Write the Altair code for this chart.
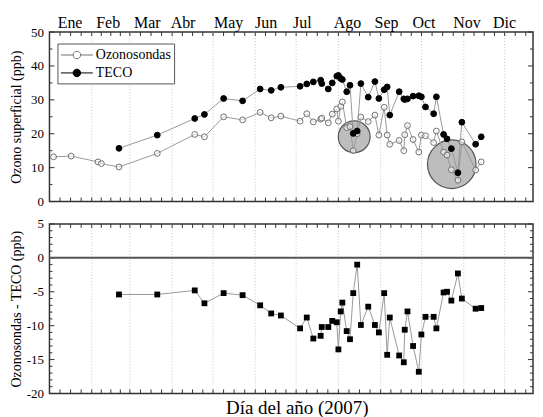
import altair as alt
import pandas as pd

# ---------------- data ----------------
MONTHS = ["Ene", "Feb", "Mar", "Abr", "May", "Jun", "Jul", "Ago", "Sep", "Oct", "Nov", "Dic"]
MONTH_LABEL_DAY = [15.1, 43.1, 71.8, 98.0, 131.5, 159.0, 185.5, 218.7, 247.3, 274.8, 306.4, 333.9]
MONTH_START = [0, 31, 59, 90, 120, 151, 181, 212, 243, 273, 304, 334, 365]
X_DOMAIN = [0, 354.8]

OZ_DAY = [3.0, 15.9, 35.6, 38.1, 51.0, 79.1, 106.6, 113.7, 127.8, 141.7, 154.6, 162.7, 169.8,
          183.9, 188.8, 193.6, 199.0, 199.8, 204.6, 207.5, 210.8, 212.0, 213.7, 214.9, 218.1,
          220.5, 222.9, 225.8, 228.5, 233.9, 238.8, 241.7, 245.6, 247.8, 249.7, 256.6, 260.0,
          260.7, 262.7, 266.8, 271.0, 272.9, 275.9, 281.9, 283.9, 289.2, 291.7, 294.9, 299.7,
          302.6, 312.7, 316.8]
OZ_VAL = [13.2, 13.4, 11.7, 11.2, 10.2, 14.2, 19.8, 19.1, 25.0, 24.1, 26.3, 24.7, 25.2,
          23.7, 25.9, 23.5, 24.3, 24.6, 23.2, 25.8, 27.3, 23.7, 28.1, 29.4, 21.8,
          22.1, 15.0, 20.0, 24.9, 23.6, 25.5, 19.6, 27.8, 19.6, 16.9, 18.0, 15.0,
          19.7, 22.4, 18.3, 14.6, 19.6, 19.4, 17.4, 20.8, 14.6, 13.7, 9.4, 6.3,
          17.6, 9.3, 11.7]

TECO_DAY = [51.0, 79.1, 106.6, 113.7, 127.8, 141.7, 154.6, 162.7, 169.8,
            183.9, 188.8, 193.6, 199.0, 199.8, 204.6, 207.5, 210.8, 212.0, 213.7, 214.9,
            218.1, 220.5, 222.9, 225.8, 228.5, 233.9, 238.8, 241.7, 245.6, 247.8, 249.7,
            256.6, 260.0, 260.7, 262.7, 266.8, 271.0, 272.9, 275.9, 281.9, 283.9,
            289.2, 291.7, 294.9, 299.7, 302.6, 312.7, 316.8]
TECO_VAL = [15.7, 19.6, 24.5, 25.7, 30.4, 29.7, 33.2, 32.8, 33.7,
            34.0, 34.7, 35.3, 35.8, 34.8, 33.2, 35.0, 37.0, 37.2, 36.3, 36.0,
            32.4, 34.3, 20.1, 20.8, 34.8, 30.8, 35.4, 30.4, 33.0, 33.8, 25.5,
            32.4, 30.3, 30.1, 30.3, 31.1, 31.2, 30.9, 27.9, 25.9, 30.9,
            19.8, 18.5, 15.6, 8.5, 23.4, 16.9, 19.1]

DIFF_DAY = list(TECO_DAY)
DIFF_VAL = [-5.4, -5.4, -4.8, -6.7, -5.2, -5.5, -7.0, -8.2, -8.5,
            -10.4, -8.8, -11.9, -11.5, -10.2, -10.2, -9.3, -9.5, -13.5, -7.9, -6.6,
            -10.8, -12.0, -5.2, -1.0, -9.9, -7.2, -9.9, -11.0, -5.2, -14.3, -8.8,
            -14.4, -15.4, -10.6, -7.9, -13.0, -16.8, -11.3, -8.7, -8.7, -10.4,
            -5.1, -5.0, -6.3, -2.3, -6.0, -7.5, -7.4]

HIGHLIGHT_DAY = [223.6, 295.2]
HIGHLIGHT_VAL = [19.1, 11.0]

SERIES = ["Ozonosondas", "TECO"]
TOP_Y_DOMAIN = [0, 50]
TOP_Y_LABELS = [0, 10, 20, 30, 40, 50]
TOP_Y_MINOR = [5, 15, 25, 35, 45]
BOT_Y_DOMAIN = [-20, 5]
BOT_Y_LABELS = [-20, -15, -10, -5, 0, 5]
BOT_Y_MINOR = [v for v in range(-19, 5) if v % 5 != 0]
ZERO = [0]

# ---------------- layout / style ----------------
W, H1, H2 = 485, 170, 170
FONT = "Liberation Serif"
TICK = "#333333"
SYMBOL_PATH = ("M-1,0H0.53M1.47,0H3M1.47,0A0.47,0.47,0,1,1,0.53,0"
               "A0.47,0.47,0,1,1,1.47,0Z")

xticks = []
for s, e in zip(MONTH_START[:-1], MONTH_START[1:]):
    for k in range(4):
        v = s + k * (e - s) / 4
        if X_DOMAIN[0] < v < X_DOMAIN[1]:
            xticks.append(v)

xscale = alt.Scale(domain=X_DOMAIN, nice=False, zero=False)

XAX_TOP = None
XAX_BOT = alt.Axis(labels=False, ticks=False, domain=False, grid=False,
                   title="Día del año (2007)", titleFontSize=19,
                   titleX=248, titleY=20, titleBaseline="alphabetic", titleAlign="center")
YAX_TOP = alt.Axis(values=TOP_Y_LABELS, ticks=False, domain=False, grid=False,
                   labelPadding=6, title="Ozono superficial (ppb)",
                   titleX=-33, titleBaseline="middle")
YAX_BOT = alt.Axis(values=BOT_Y_LABELS, ticks=False, domain=False, grid=False,
                   labelPadding=6, title="Ozonosondas - TECO (ppb)",
                   titleX=-33, titleBaseline="middle",
                   labelExpr="datum.value < 0 ? '-' + abs(datum.value) : '' + datum.value")


def enc_x(ax):
    return alt.X("day:Q", scale=xscale, axis=ax)


def frame_layers(H, yscale, xax, yax, ymajor, yminor, major_len, minor_len):
    X = enc_x(xax)
    Y = alt.Y("val:Q", scale=yscale, axis=yax)
    grid = alt.Chart(pd.DataFrame({"day": MONTH_START[1:12]})).mark_rule(
        color="#c8c8c8", strokeDash=[1, 2], strokeWidth=1).encode(x=X)
    xt = pd.DataFrame({"day": xticks})
    tt = alt.Chart(xt).mark_rule(color=TICK, strokeWidth=1).encode(
        x=X, y=alt.value(0), y2=alt.value(4))
    tb = alt.Chart(xt).mark_rule(color=TICK, strokeWidth=1).encode(
        x=X, y=alt.value(H), y2=alt.value(H - 4))
    layers = [grid, tt, tb]
    for vals, ln in ((ymajor, major_len), (yminor, minor_len)):
        d = pd.DataFrame({"val": vals})
        layers.append(alt.Chart(d).mark_rule(color=TICK, strokeWidth=1).encode(
            y=Y, x=alt.value(0), x2=alt.value(ln)))
        layers.append(alt.Chart(d).mark_rule(color=TICK, strokeWidth=1).encode(
            y=Y, x=alt.value(W), x2=alt.value(W - ln)))
    return layers


# ---------------- top panel ----------------
top_yscale = alt.Scale(domain=TOP_Y_DOMAIN, nice=False, zero=False)
XT = enc_x(XAX_TOP)
YT = alt.Y("val:Q", scale=top_yscale, axis=YAX_TOP)
top_frame = frame_layers(H1, top_yscale, XAX_TOP, YAX_TOP, TOP_Y_LABELS, TOP_Y_MINOR, 5, 3)

pts = pd.DataFrame({
    "day": OZ_DAY + TECO_DAY,
    "val": OZ_VAL + TECO_VAL,
    "series": [SERIES[0]] * len(OZ_DAY) + [SERIES[1]] * len(TECO_DAY),
})
hl = pd.DataFrame({"day": HIGHLIGHT_DAY, "val": HIGHLIGHT_VAL})
months = pd.DataFrame({"day": MONTH_LABEL_DAY, "name": MONTHS})

hl1 = alt.Chart(hl.iloc[[0]]).mark_point(
    shape="circle", filled=True, fill="#bdbdbd", stroke="#555555", strokeWidth=1.2,
    opacity=1, size=1018).encode(x=XT, y=YT)
hl2 = alt.Chart(hl.iloc[[1]]).mark_point(
    shape="circle", filled=True, fill="#bdbdbd", stroke="#555555", strokeWidth=1.2,
    opacity=1, size=2376).encode(x=XT, y=YT)

lines_top = alt.Chart(pts).mark_line(color="#9a9a9a", strokeWidth=1).encode(
    x=XT, y=YT, detail="series:N")

legend = alt.Legend(
    title=None, orient="none", legendX=8, legendY=11.5,
    symbolType=SYMBOL_PATH, symbolSize=256, symbolStrokeWidth=1,
    labelFont=FONT, labelFontSize=14, labelColor="black", labelOffset=18.5,
    padding=3, rowPadding=2, strokeColor="#555555", fillColor="white",
)
points_top = alt.Chart(pts).mark_point(
    shape="circle", filled=True, size=34, strokeWidth=1, opacity=1).encode(
    x=XT, y=YT,
    fill=alt.Fill("series:N", scale=alt.Scale(domain=SERIES,
                                               range=["rgba(255,255,255,0.55)", "black"]),
                  legend=legend),
    stroke=alt.Stroke("series:N", scale=alt.Scale(domain=SERIES, range=["#707070", "black"]),
                      legend=legend),
)

month_text = alt.Chart(months).mark_text(
    font=FONT, fontSize=16, baseline="alphabetic", align="center", color="black").encode(
    x=XT, y=alt.value(-4.2), text="name:N")

top = alt.layer(*top_frame, hl1, hl2, lines_top, points_top, month_text).properties(
    width=W, height=H1)

# ---------------- bottom panel ----------------
bot_yscale = alt.Scale(domain=BOT_Y_DOMAIN, nice=False, zero=False)
XB = enc_x(XAX_BOT)
YB = alt.Y("val:Q", scale=bot_yscale, axis=YAX_BOT)
bot_frame = frame_layers(H2, bot_yscale, XAX_BOT, YAX_BOT, BOT_Y_LABELS, BOT_Y_MINOR, 5, 3)
diff = pd.DataFrame({"day": DIFF_DAY, "val": DIFF_VAL})

zero_line = alt.Chart(pd.DataFrame({"val": ZERO})).mark_rule(
    color="#555555", strokeWidth=2).encode(y=YB)
lines_bot = alt.Chart(diff).mark_line(color="#9a9a9a", strokeWidth=1).encode(x=XB, y=YB)
points_bot = alt.Chart(diff).mark_point(
    shape="square", filled=True, color="black", size=34, opacity=1).encode(x=XB, y=YB)

bottom = alt.layer(*bot_frame, zero_line, lines_bot, points_bot).properties(width=W, height=H2)

chart = (
    alt.vconcat(top, bottom, spacing=7.5)
    .resolve_scale(fill="independent", stroke="independent")
    .resolve_legend(fill="independent", stroke="independent")
    .properties(padding={"left": 0.6, "top": 5.5, "right": 0, "bottom": 0})
    .configure_view(stroke="#333333", strokeWidth=1.5)
    .configure_axis(labelFont=FONT, titleFont=FONT, labelColor="black", titleColor="black",
                    labelFontSize=13, titleFontSize=14, titleFontWeight="normal")
)

chart.save("out.html", embed_options={"renderer": "svg", "actions": False})
